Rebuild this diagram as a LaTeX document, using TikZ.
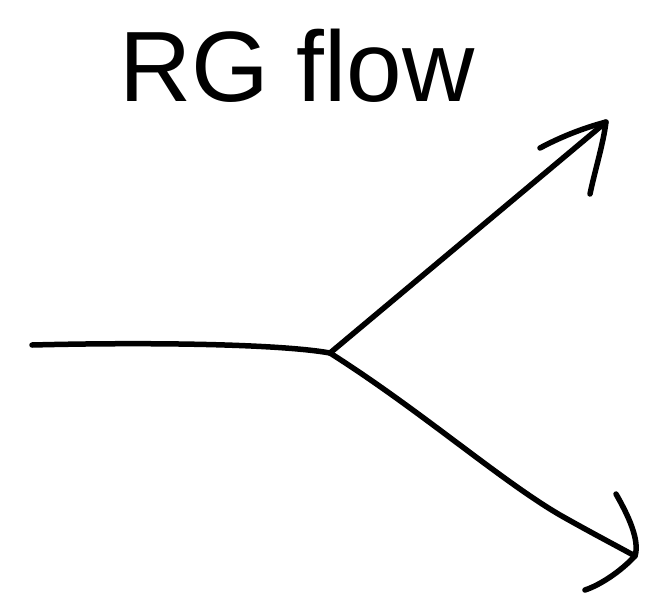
\documentclass[tikz,border=0pt]{standalone}
\usepackage{fontspec}
\setmainfont{Liberation Sans}
\begin{document}
\begin{tikzpicture}[x=1pt,y=-1pt,
  stroke/.style={line width=5.5pt,line cap=round,line join=round,black}]
\useasboundingbox (0,0) rectangle (651,603);
\node[font=\fontsize{100}{100}\selectfont] (title) at (297,66) {RG flow};
\coordinate (left) at (32,345);
\coordinate (mid) at (330,353);
\coordinate (up) at (606,122);
\coordinate (upa) at (540,148);
\coordinate (upb) at (590,194);
\coordinate (down) at (635,556);
\coordinate (downa) at (616,494);
\coordinate (downb) at (585,590);
\draw[stroke] (left) .. controls (150,342) and (280,344) .. (mid);
\draw[stroke] (mid) -- (up);
\draw[stroke] (upa) .. controls (570,132) and (595,125) .. (up) .. controls (603,145) and (595,170) .. (upb);
\draw[stroke] (mid) .. controls (420,410) and (500,480) .. (560,515) .. controls (590,532) and (615,545) .. (down);
\draw[stroke] (downa) .. controls (628,515) and (640,540) .. (down) .. controls (620,572) and (600,585) .. (downb);
\end{tikzpicture}
\end{document}
